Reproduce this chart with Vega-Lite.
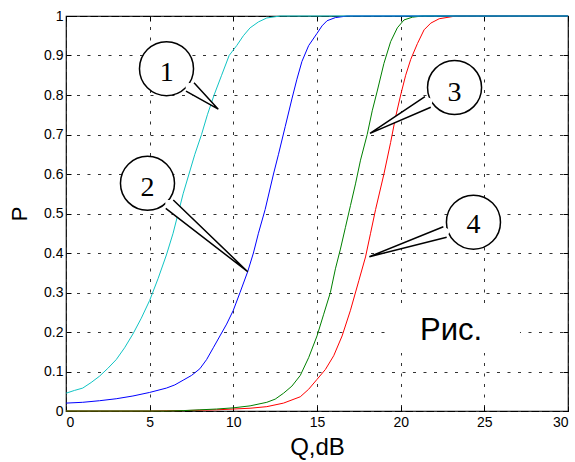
{
  "$schema": "https://vega.github.io/schema/vega-lite/v6.json",
  "width": 502,
  "height": 395,
  "autosize": "none",
  "padding": {"left": 66, "top": 16, "right": 7, "bottom": 51},
  "background": "white",
  "config": {
    "view": {"stroke": "black", "strokeWidth": 1.2},
    "font": "Liberation Sans",
    "axis": {
      "gridColor": "#333333",
      "gridDash": [3, 7.5],
      "gridWidth": 1,
      "gridOpacity": 1,
      "domain": false,
      "tickColor": "black",
      "tickSize": -5,
      "labelColor": "black",
      "labelFont": "Liberation Sans",
      "labelFontSize": 14,
      "titleColor": "black",
      "titleFont": "Liberation Sans",
      "titleFontWeight": "normal"
    }
  },
  "datasets": {
    "curves": [
      {"s": "4", "x": 0, "y": 0}, {"s": "4", "x": 5, "y": 0}, {"s": "4", "x": 7, "y": 0.001}, {"s": "4", "x": 9, "y": 0.003},
      {"s": "4", "x": 10, "y": 0.005}, {"s": "4", "x": 11, "y": 0.007}, {"s": "4", "x": 12, "y": 0.011}, {"s": "4", "x": 13, "y": 0.02},
      {"s": "4", "x": 14, "y": 0.036}, {"s": "4", "x": 14.5, "y": 0.055}, {"s": "4", "x": 15, "y": 0.08}, {"s": "4", "x": 15.5, "y": 0.105},
      {"s": "4", "x": 16, "y": 0.14}, {"s": "4", "x": 16.5, "y": 0.19}, {"s": "4", "x": 17, "y": 0.255}, {"s": "4", "x": 17.5, "y": 0.33},
      {"s": "4", "x": 17.9, "y": 0.39}, {"s": "4", "x": 18.2, "y": 0.45}, {"s": "4", "x": 18.5, "y": 0.51}, {"s": "4", "x": 19.0, "y": 0.6},
      {"s": "4", "x": 19.4, "y": 0.68}, {"s": "4", "x": 19.7, "y": 0.745}, {"s": "4", "x": 20.0, "y": 0.8}, {"s": "4", "x": 20.3, "y": 0.85},
      {"s": "4", "x": 20.6, "y": 0.89}, {"s": "4", "x": 21.0, "y": 0.93}, {"s": "4", "x": 21.4, "y": 0.965}, {"s": "4", "x": 21.8, "y": 0.982},
      {"s": "4", "x": 22.3, "y": 0.993}, {"s": "4", "x": 23.3, "y": 1}, {"s": "4", "x": 30, "y": 1},
      {"s": "3", "x": 0, "y": 0}, {"s": "3", "x": 6, "y": 0}, {"s": "3", "x": 7, "y": 0.001}, {"s": "3", "x": 8, "y": 0.003},
      {"s": "3", "x": 9, "y": 0.005}, {"s": "3", "x": 10, "y": 0.008}, {"s": "3", "x": 11, "y": 0.013}, {"s": "3", "x": 12, "y": 0.022},
      {"s": "3", "x": 12.5, "y": 0.03}, {"s": "3", "x": 13, "y": 0.045}, {"s": "3", "x": 13.5, "y": 0.063}, {"s": "3", "x": 14, "y": 0.09},
      {"s": "3", "x": 14.5, "y": 0.135}, {"s": "3", "x": 15, "y": 0.19}, {"s": "3", "x": 15.4, "y": 0.245}, {"s": "3", "x": 15.8, "y": 0.3},
      {"s": "3", "x": 16.1, "y": 0.36}, {"s": "3", "x": 16.4, "y": 0.41}, {"s": "3", "x": 16.7, "y": 0.465}, {"s": "3", "x": 17.0, "y": 0.52},
      {"s": "3", "x": 17.3, "y": 0.575}, {"s": "3", "x": 17.6, "y": 0.635}, {"s": "3", "x": 18.0, "y": 0.7}, {"s": "3", "x": 18.3, "y": 0.76},
      {"s": "3", "x": 18.6, "y": 0.81}, {"s": "3", "x": 19.0, "y": 0.88}, {"s": "3", "x": 19.4, "y": 0.935}, {"s": "3", "x": 19.8, "y": 0.97},
      {"s": "3", "x": 20.2, "y": 0.99}, {"s": "3", "x": 20.7, "y": 0.997}, {"s": "3", "x": 21.3, "y": 1}, {"s": "3", "x": 30, "y": 1},
      {"s": "2", "x": 0, "y": 0.02}, {"s": "2", "x": 1, "y": 0.022}, {"s": "2", "x": 2, "y": 0.026}, {"s": "2", "x": 3, "y": 0.031},
      {"s": "2", "x": 4, "y": 0.038}, {"s": "2", "x": 5, "y": 0.047}, {"s": "2", "x": 6, "y": 0.058}, {"s": "2", "x": 6.5, "y": 0.066},
      {"s": "2", "x": 7, "y": 0.078}, {"s": "2", "x": 7.5, "y": 0.09}, {"s": "2", "x": 8, "y": 0.107}, {"s": "2", "x": 8.4, "y": 0.13},
      {"s": "2", "x": 8.8, "y": 0.16}, {"s": "2", "x": 9.2, "y": 0.19}, {"s": "2", "x": 9.6, "y": 0.22}, {"s": "2", "x": 10, "y": 0.255},
      {"s": "2", "x": 10.4, "y": 0.3}, {"s": "2", "x": 10.86, "y": 0.353}, {"s": "2", "x": 11.2, "y": 0.4}, {"s": "2", "x": 11.5, "y": 0.45},
      {"s": "2", "x": 11.9, "y": 0.51}, {"s": "2", "x": 12.4, "y": 0.6}, {"s": "2", "x": 12.7, "y": 0.65}, {"s": "2", "x": 13.1, "y": 0.72},
      {"s": "2", "x": 13.5, "y": 0.79}, {"s": "2", "x": 13.8, "y": 0.84}, {"s": "2", "x": 14.1, "y": 0.885}, {"s": "2", "x": 14.5, "y": 0.925},
      {"s": "2", "x": 15.0, "y": 0.956}, {"s": "2", "x": 15.3, "y": 0.975}, {"s": "2", "x": 15.6, "y": 0.988}, {"s": "2", "x": 16.1, "y": 0.996},
      {"s": "2", "x": 16.8, "y": 1}, {"s": "2", "x": 30, "y": 1},
      {"s": "1", "x": 0, "y": 0.045}, {"s": "1", "x": 0.5, "y": 0.052}, {"s": "1", "x": 1, "y": 0.058}, {"s": "1", "x": 1.5, "y": 0.072},
      {"s": "1", "x": 2, "y": 0.088}, {"s": "1", "x": 2.5, "y": 0.108}, {"s": "1", "x": 3, "y": 0.13}, {"s": "1", "x": 3.5, "y": 0.16},
      {"s": "1", "x": 4, "y": 0.195}, {"s": "1", "x": 4.5, "y": 0.235}, {"s": "1", "x": 5, "y": 0.28}, {"s": "1", "x": 5.5, "y": 0.335},
      {"s": "1", "x": 6, "y": 0.395}, {"s": "1", "x": 6.4, "y": 0.45}, {"s": "1", "x": 6.7, "y": 0.5}, {"s": "1", "x": 7.0, "y": 0.55},
      {"s": "1", "x": 7.35, "y": 0.6}, {"s": "1", "x": 7.7, "y": 0.65}, {"s": "1", "x": 8.1, "y": 0.7}, {"s": "1", "x": 8.45, "y": 0.75},
      {"s": "1", "x": 8.85, "y": 0.8}, {"s": "1", "x": 9.3, "y": 0.85}, {"s": "1", "x": 9.75, "y": 0.9}, {"s": "1", "x": 10.2, "y": 0.925},
      {"s": "1", "x": 10.6, "y": 0.95}, {"s": "1", "x": 11.0, "y": 0.97}, {"s": "1", "x": 11.5, "y": 0.985}, {"s": "1", "x": 12, "y": 0.995},
      {"s": "1", "x": 12.8, "y": 1}, {"s": "1", "x": 30, "y": 1}
    ],
    "wedges": [
      {"id": "1", "k": 1, "f": 0, "x": 7.65, "y": 0.831}, {"id": "1", "k": 2, "f": 0, "x": 9.10, "y": 0.764}, {"id": "1", "k": 3, "f": 0, "x": 7.17, "y": 0.81}, {"id": "1", "k": 4, "f": 1, "x": 7.13, "y": 0.83},
      {"id": "2", "k": 1, "f": 0, "x": 6.41, "y": 0.534}, {"id": "2", "k": 2, "f": 0, "x": 10.86, "y": 0.3527}, {"id": "2", "k": 3, "f": 0, "x": 5.96, "y": 0.513}, {"id": "2", "k": 4, "f": 1, "x": 5.92, "y": 0.534},
      {"id": "3", "k": 1, "f": 0, "x": 21.45, "y": 0.796}, {"id": "3", "k": 2, "f": 0, "x": 18.17, "y": 0.703}, {"id": "3", "k": 3, "f": 0, "x": 21.8, "y": 0.769}, {"id": "3", "k": 4, "f": 1, "x": 21.94, "y": 0.79},
      {"id": "4", "k": 1, "f": 0, "x": 22.55, "y": 0.4666}, {"id": "4", "k": 2, "f": 0, "x": 18.13, "y": 0.3906}, {"id": "4", "k": 3, "f": 0, "x": 22.75, "y": 0.4397}, {"id": "4", "k": 4, "f": 1, "x": 22.99, "y": 0.458}
    ],
    "circles": [
      {"id": "1", "x": 6.006, "y": 0.8666, "lx": 6.02, "ly": 0.855},
      {"id": "2", "x": 4.87, "y": 0.5765, "lx": 4.87, "ly": 0.564},
      {"id": "3", "x": 23.22, "y": 0.819, "lx": 23.22, "ly": 0.806},
      {"id": "4", "x": 24.35, "y": 0.478, "lx": 24.36, "ly": 0.471}
    ],
    "note": [
      {"t": "Рис.", "x": 21.16, "y": 0.18, "x1": 19.36, "x2": 27.13, "y1": 0.147, "y2": 0.27}
    ]
  },
  "resolve": {"axis": {"x": "independent", "y": "independent"}},
  "layer": [
    {
      "data": {"name": "curves"},
      "mark": {"type": "line", "strokeWidth": 1, "clip": false},
      "encoding": {
        "x": {"field": "x", "type": "quantitative",
              "scale": {"domain": [0, 30], "nice": false, "zero": false},
              "axis": {"values": [0, 5, 10, 15, 20, 25, 30], "title": "Q,dB", "titleFontSize": 24, "labelPadding": 9, "titlePadding": 6, "grid": true}},
        "y": {"field": "y", "type": "quantitative",
              "scale": {"domain": [0, 1], "nice": false},
              "axis": {"values": [0, 0.1, 0.2, 0.3, 0.4, 0.5, 0.6, 0.7, 0.8, 0.9, 1], "format": "~g", "title": "P", "titleFontSize": 22, "labelPadding": 8, "titlePadding": 12, "grid": true}},
        "color": {"field": "s", "type": "nominal", "sort": ["4", "3", "2", "1"],
                  "scale": {"domain": ["4", "3", "2", "1"], "range": ["#ff0000", "#008000", "#0000ff", "#10c4c4"]}, "legend": null}
      }
    },
    {
      "data": {"name": "note"},
      "mark": {"type": "rect", "fill": "white", "stroke": null},
      "encoding": {
        "x": {"field": "x1", "type": "quantitative", "axis": {"orient": "top", "labels": false, "title": null, "grid": false, "values": [0, 5, 10, 15, 20, 25, 30]}},
        "x2": {"field": "x2"},
        "y": {"field": "y1", "type": "quantitative", "axis": {"orient": "right", "labels": false, "title": null, "grid": false, "values": [0, 0.1, 0.2, 0.3, 0.4, 0.5, 0.6, 0.7, 0.8, 0.9, 1]}},
        "y2": {"field": "y2"}
      }
    },
    {
      "data": {"name": "note"},
      "mark": {"type": "text", "align": "left", "baseline": "alphabetic", "font": "Liberation Sans", "fontSize": 31, "color": "black"},
      "encoding": {
        "x": {"field": "x", "type": "quantitative", "axis": null},
        "y": {"field": "y", "type": "quantitative", "axis": null},
        "text": {"field": "t"}
      }
    },
    {
      "data": {"name": "circles"},
      "mark": {"type": "point", "shape": "circle", "size": 2920, "fill": "white", "stroke": "black", "strokeWidth": 1.5, "opacity": 1, "fillOpacity": 1, "strokeOpacity": 1},
      "encoding": {
        "x": {"field": "x", "type": "quantitative", "axis": null},
        "y": {"field": "y", "type": "quantitative", "axis": null}
      }
    },
    {
      "data": {"name": "wedges"},
      "mark": {"type": "line", "fill": "white", "strokeOpacity": 0, "interpolate": "linear"},
      "encoding": {
        "x": {"field": "x", "type": "quantitative", "axis": null},
        "y": {"field": "y", "type": "quantitative", "axis": null},
        "detail": {"field": "id"},
        "order": {"field": "k"}
      }
    },
    {
      "data": {"name": "wedges"},
      "transform": [{"filter": "datum.f == 0"}],
      "mark": {"type": "line", "stroke": "black", "strokeWidth": 1.5, "interpolate": "linear", "strokeJoin": "miter"},
      "encoding": {
        "x": {"field": "x", "type": "quantitative", "axis": null},
        "y": {"field": "y", "type": "quantitative", "axis": null},
        "detail": {"field": "id"},
        "order": {"field": "k"}
      }
    },
    {
      "data": {"name": "circles"},
      "mark": {"type": "text", "align": "center", "baseline": "middle", "font": "Liberation Serif", "fontSize": 28, "color": "black"},
      "encoding": {
        "x": {"field": "lx", "type": "quantitative", "axis": null},
        "y": {"field": "ly", "type": "quantitative", "axis": null},
        "text": {"field": "id"}
      }
    }
  ]
}
